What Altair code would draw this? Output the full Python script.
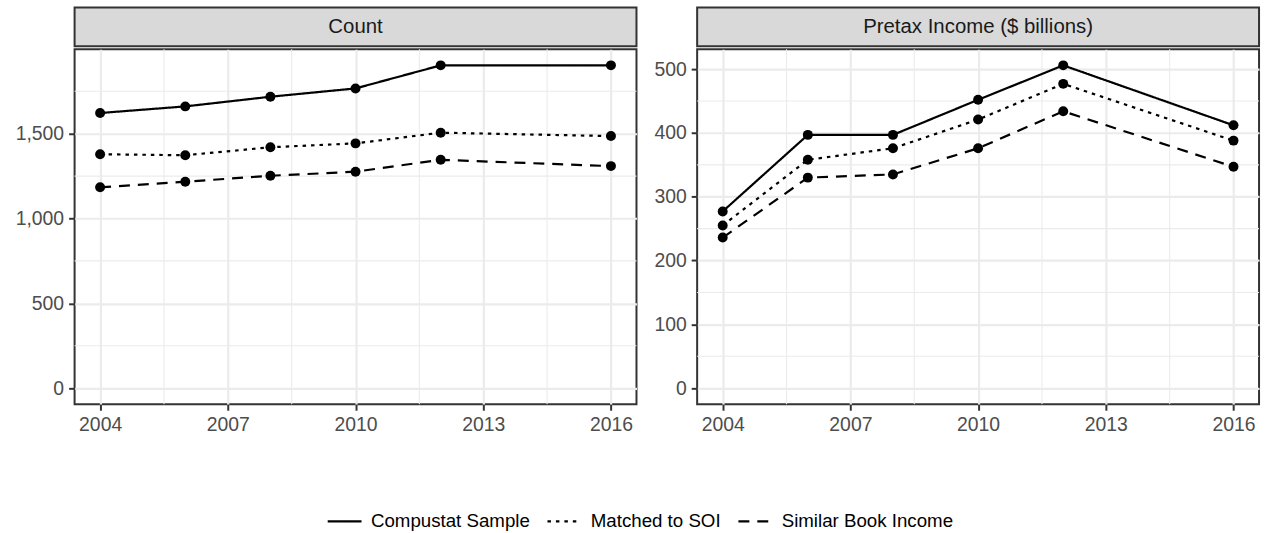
import altair as alt
import pandas as pd

# ---- data -----------------------------------------------------------------
years = [2004, 2006, 2008, 2010, 2012, 2016]
series_names = ["Compustat Sample", "Matched to SOI", "Similar Book Income"]

count_compustat = [1622, 1661, 1718, 1767, 1903, 1903]
count_matched = [1379, 1373, 1420, 1443, 1506, 1486]
count_similar = [1184, 1217, 1252, 1276, 1346, 1309]

pretax_compustat = [277, 397, 397, 452, 506, 412]
pretax_matched = [255, 358, 376, 421, 477, 388]
pretax_similar = [236, 330, 335, 376, 434, 347]

x_ticks = [2004, 2007, 2010, 2013, 2016]
x_minor = [2005.5, 2008.5, 2011.5, 2014.5]
count_ticks = [0, 500, 1000, 1500]
count_minor = [250, 750, 1250, 1750]
pretax_ticks = [0, 100, 200, 300, 400, 500]
pretax_minor = [50, 150, 250, 350, 450]

FONT = "Liberation Sans"
FS = 19.5
LEGEND_FS = 18.8
STRIP_FS = 20.5
PANEL_W = 565
PANEL_H = 357
STRIP_H = 39
INK = "#333333"
GRID = "#EBEBEB"


def long_frame(columns):
    rows = []
    for name, vals in zip(series_names, columns):
        for yr, v in zip(years, vals):
            rows.append({"year": yr, "value": v, "series": name})
    return pd.DataFrame(rows)


def padded(lo, hi, frac=0.05):
    span = hi - lo
    return [lo - span * frac, hi + span * frac]


def panel(title, df, y_ticks, y_minor, y_fmt):
    x_enc = alt.X(
        "year:Q",
        scale=alt.Scale(domain=padded(min(years), max(years)), nice=False, zero=False),
        axis=alt.Axis(values=x_ticks, format="d", title=None, grid=True),
    )
    y_enc = alt.Y(
        "value:Q",
        scale=alt.Scale(domain=padded(0, df["value"].max()), nice=False, zero=False),
        axis=alt.Axis(values=y_ticks, format=y_fmt, title=None, grid=True),
    )

    # minor grid lines between the labelled ticks
    minor_x = (
        alt.Chart(pd.DataFrame({"year": x_minor}))
        .mark_rule(color=GRID, strokeWidth=1.1)
        .encode(x=x_enc)
    )
    minor_y = (
        alt.Chart(pd.DataFrame({"value": y_minor}))
        .mark_rule(color=GRID, strokeWidth=1.1)
        .encode(y=y_enc)
    )

    base = alt.Chart(df)
    lines = base.mark_line(color="black", strokeWidth=2.2).encode(
        x=x_enc,
        y=y_enc,
        strokeDash=alt.StrokeDash(
            "series:N",
            scale=alt.Scale(domain=series_names, range=[[1, 0], [3.5, 5], [11, 8]]),
            legend=alt.Legend(
                title=None,
                orient="none",
                legendX=253,
                legendY=498,
                direction="horizontal",
                symbolType="stroke",
                symbolSize=1156,
                symbolStrokeWidth=2.2,
                symbolStrokeColor="black",
                labelFont=FONT,
                labelFontSize=LEGEND_FS,
                labelColor="black",
                labelLimit=400,
                labelOffset=8,
                columnPadding=13,
            ),
        ),
    )
    points = base.mark_circle(color="black", size=100, opacity=1).encode(
        x=x_enc,
        y=y_enc,
        detail="series:N",
    )

    plot = alt.layer(minor_x, minor_y, lines, points).properties(
        width=PANEL_W,
        height=PANEL_H,
        view=alt.ViewBackground(fill="white", stroke=INK, strokeWidth=2),
    )

    strip = (
        alt.Chart(pd.DataFrame({"label": [title]}))
        .mark_text(font=FONT, fontSize=STRIP_FS, color="#1A1A1A", baseline="middle", align="center")
        .encode(text="label:N", x=alt.value(PANEL_W / 2), y=alt.value(STRIP_H / 2))
        .properties(
            width=PANEL_W,
            height=STRIP_H,
            view=alt.ViewBackground(fill="#D9D9D9", stroke=INK, strokeWidth=2),
        )
    )
    return alt.vconcat(strip, plot, spacing=0)


count_df = long_frame([count_compustat, count_matched, count_similar])
pretax_df = long_frame([pretax_compustat, pretax_matched, pretax_similar])

left = panel("Count", count_df, count_ticks, count_minor, ",.0f")
right = panel("Pretax Income ($ billions)", pretax_df, pretax_ticks, pretax_minor, "d")

chart = (
    alt.hconcat(left, right, spacing=14)
    .properties(padding={"left": 14, "top": 5, "right": 6, "bottom": 6}, background="white")
    .configure_axis(
        labelFont=FONT,
        labelFontSize=FS,
        labelColor="#4D4D4D",
        labelPadding=5,
        tickColor=INK,
        tickWidth=2,
        tickSize=6,
        domain=False,
        gridColor=GRID,
        gridWidth=2.2,
    )
)

chart.save("out.html", embed_options={"renderer": "svg", "actions": False})
